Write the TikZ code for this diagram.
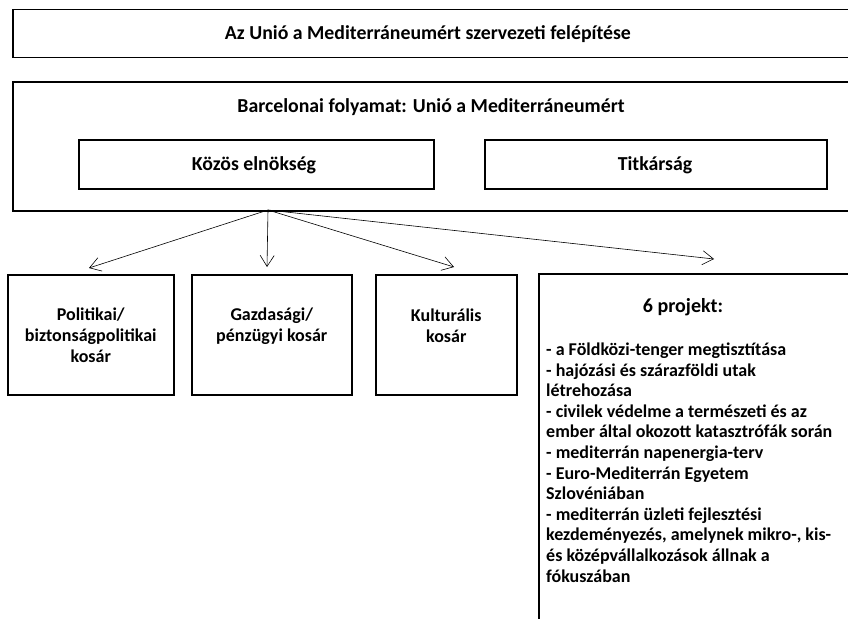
\documentclass[tikz,border=0pt]{standalone}
\usepackage{fontspec}
\setmainfont{Carlito}
\usetikzlibrary{arrows.meta,positioning}

\begin{document}
\begin{tikzpicture}[
        x = 1pt, y = -1pt,
        box/.style = {draw, line width = 1.5pt, inner sep = 0pt, anchor = north west},
        lbl/.style = {font = \bfseries\fontsize{18}{21}\selectfont, align = center, inner sep = 0pt, anchor = base},
        toplbl/.style = {lbl, font = \bfseries\fontsize{19.8}{23}\selectfont},
        arr/.style = {-{Straight Barb[length = 11pt, width = 14pt]}, line width = 0.6pt}
    ]
    \useasboundingbox (0, 0) rectangle (848, 618);
    \clip (0, 0) rectangle (848, 618);

    % top level
    \node [box, minimum width = 858pt, minimum height = 48pt] (title) at (12, 9) {};
    \node [toplbl] (titletext) at (428, 40) {Az Unió a Mediterráneumért szervezeti felépítése};

    \node [box, minimum width = 858pt, minimum height = 129pt] (bp) at (12, 81) {};
    \node [toplbl] (bptext) at (431, 112) {Barcelonai folyamat: Unió a Mediterráneumért};

    \node [box, minimum width = 355pt, minimum height = 49pt] (elnok) at (78, 139) {};
    \node [toplbl] (elnoktext) at (254, 170) {Közös elnökség};
    \node [box, minimum width = 342pt, minimum height = 49pt] (titk) at (484, 139) {};
    \node [toplbl] (titktext) at (655, 170) {Titkárság};

    % baskets (base = last line)
    \node [box, minimum width = 166pt, minimum height = 120pt] (pol) at (7, 274) {};
    \node [lbl] (poltext) at ([yshift = -88pt] pol.north) {Politikai/\\biztonságpolitikai\\kosár};
    \node [box, minimum width = 160pt, minimum height = 120pt] (gazd) at (191, 274) {};
    \node [lbl] (gazdtext) at ([yshift = -67pt] gazd.north) {Gazdasági/\\pénzügyi kosár};
    \node [box, minimum width = 141pt, minimum height = 120pt] (kult) at (375, 274) {};
    \node [lbl] (kulttext) at ([yshift = -68pt] kult.north) {Kulturális\\kosár};

    % projects
    \node [box, minimum width = 340pt, minimum height = 380pt] (proj) at (538, 273) {};
    \node [lbl, font = \bfseries\fontsize{20}{24}\selectfont] (projhead) at (683, 312) {6 projekt:};
    \node [lbl, align = left, anchor = base west, font = \bfseries\fontsize{18}{20.6}\selectfont]
        (projlist) at (546, 582) {%
        - a Földközi-tenger megtisztítása\\
        - hajózási és szárazföldi utak\\
        létrehozása\\
        - civilek védelme a természeti és az\\
        ember által okozott katasztrófák során\\
        - mediterrán napenergia-terv\\
        - Euro-Mediterrán Egyetem\\
        Szlovéniában\\
        - mediterrán üzleti fejlesztési\\
        kezdeményezés, amelynek mikro-, kis-\\
        és középvállalkozások állnak a\\
        fókuszában};

    % arrows
    \coordinate (hub) at (268, 210);
    \draw [arr] (hub) -- (89, 268);
    \draw [arr] (hub) -- (267, 267);
    \draw [arr] (hub) -- (454, 267);
    \draw [arr] (hub) -- (714, 259);
\end{tikzpicture}
\end{document}
